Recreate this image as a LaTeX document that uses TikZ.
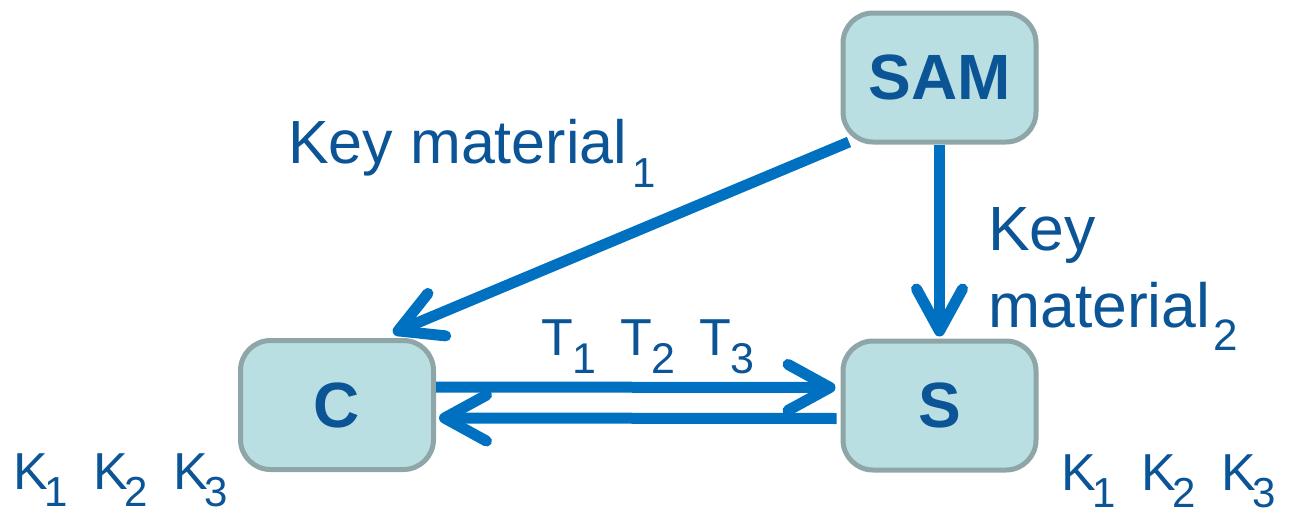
\documentclass[tikz,border=0pt]{standalone}
\usepackage{fontspec}
\setmainfont{Liberation Sans}
\usetikzlibrary{arrows.meta}
\definecolor{arrowblue}{HTML}{0070C0}
\definecolor{textblue}{HTML}{0B5597}
\definecolor{boxfill}{HTML}{BADFE3}
\definecolor{boxline}{HTML}{8FA6A8}
\newcommand\lowsub[3]{\raisebox{-#1pt}{\fontsize{#2}{#2}\selectfont #3}}
\begin{document}
\begin{tikzpicture}[x=1pt,y=-1pt,
  box/.style={draw=boxline, fill=boxfill, line width=5pt, rounded corners=30pt,
    minimum width=193pt, minimum height=129pt, inner sep=0pt,
    text=textblue, font=\fontsize{64}{64}\selectfont\bfseries},
  lbl/.style={anchor=base west, inner sep=0pt, text=textblue},
  arr/.style={draw=arrowblue, line width=11pt,
    -{Straight Barb[length=42pt,width=46pt,round]}}
]
\useasboundingbox (0,0) rectangle (1293,512);
\node[box] (SAM) at (939.5,77.5) {SAM};
\node[box] (C) at (337,405) {C};
\node[box] (S) at (939.5,405.5) {S};

\draw[arr] ([shift={(8.5,-2.5)}]SAM.south west) -- ([shift={(56,-5)}]C.north);
\draw[arr, shorten >=2pt] (SAM.south) -- (S.north);
\draw[arr, shorten >=5pt] ([yshift=18pt]C.east) -- ([yshift=18pt]S.west);
\draw[arr, shorten <=4pt, shorten >=3pt] ([yshift=-13pt]S.west) -- ([yshift=-13pt]C.east);

\node[lbl, font=\fontsize{61}{61}\selectfont] (km1) at (288,163)
  {Key material\kern5pt\lowsub{24}{42}{1}};
\node[lbl, font=\fontsize{62.5}{62.5}\selectfont] (key2) at (988,250) {Key};
\node[lbl, font=\fontsize{62.5}{62.5}\selectfont] (mat2) at (988,327)
  {material\kern3pt\lowsub{23}{44}{2}};
\node[lbl, font=\fontsize{52}{52}\selectfont] (tlab) at (541,355)
  {\makebox[79pt][l]{T\lowsub{18}{43}{1}}\makebox[79pt][l]{T\lowsub{18}{43}{2}}T\lowsub{18}{43}{3}};
\node[lbl, font=\fontsize{52}{52}\selectfont] (kleft) at (13,489)
  {\makebox[80pt][l]{K\kern-3pt\lowsub{17}{42}{1}}\makebox[80pt][l]{K\kern-3pt\lowsub{17}{42}{2}}K\kern-3pt\lowsub{17}{42}{3}};
\node[lbl, font=\fontsize{52}{52}\selectfont] (kright) at (1061,490)
  {\makebox[80pt][l]{K\kern-3pt\lowsub{17}{42}{1}}\makebox[80pt][l]{K\kern-3pt\lowsub{17}{42}{2}}K\kern-3pt\lowsub{17}{42}{3}};
\end{tikzpicture}
\end{document}
